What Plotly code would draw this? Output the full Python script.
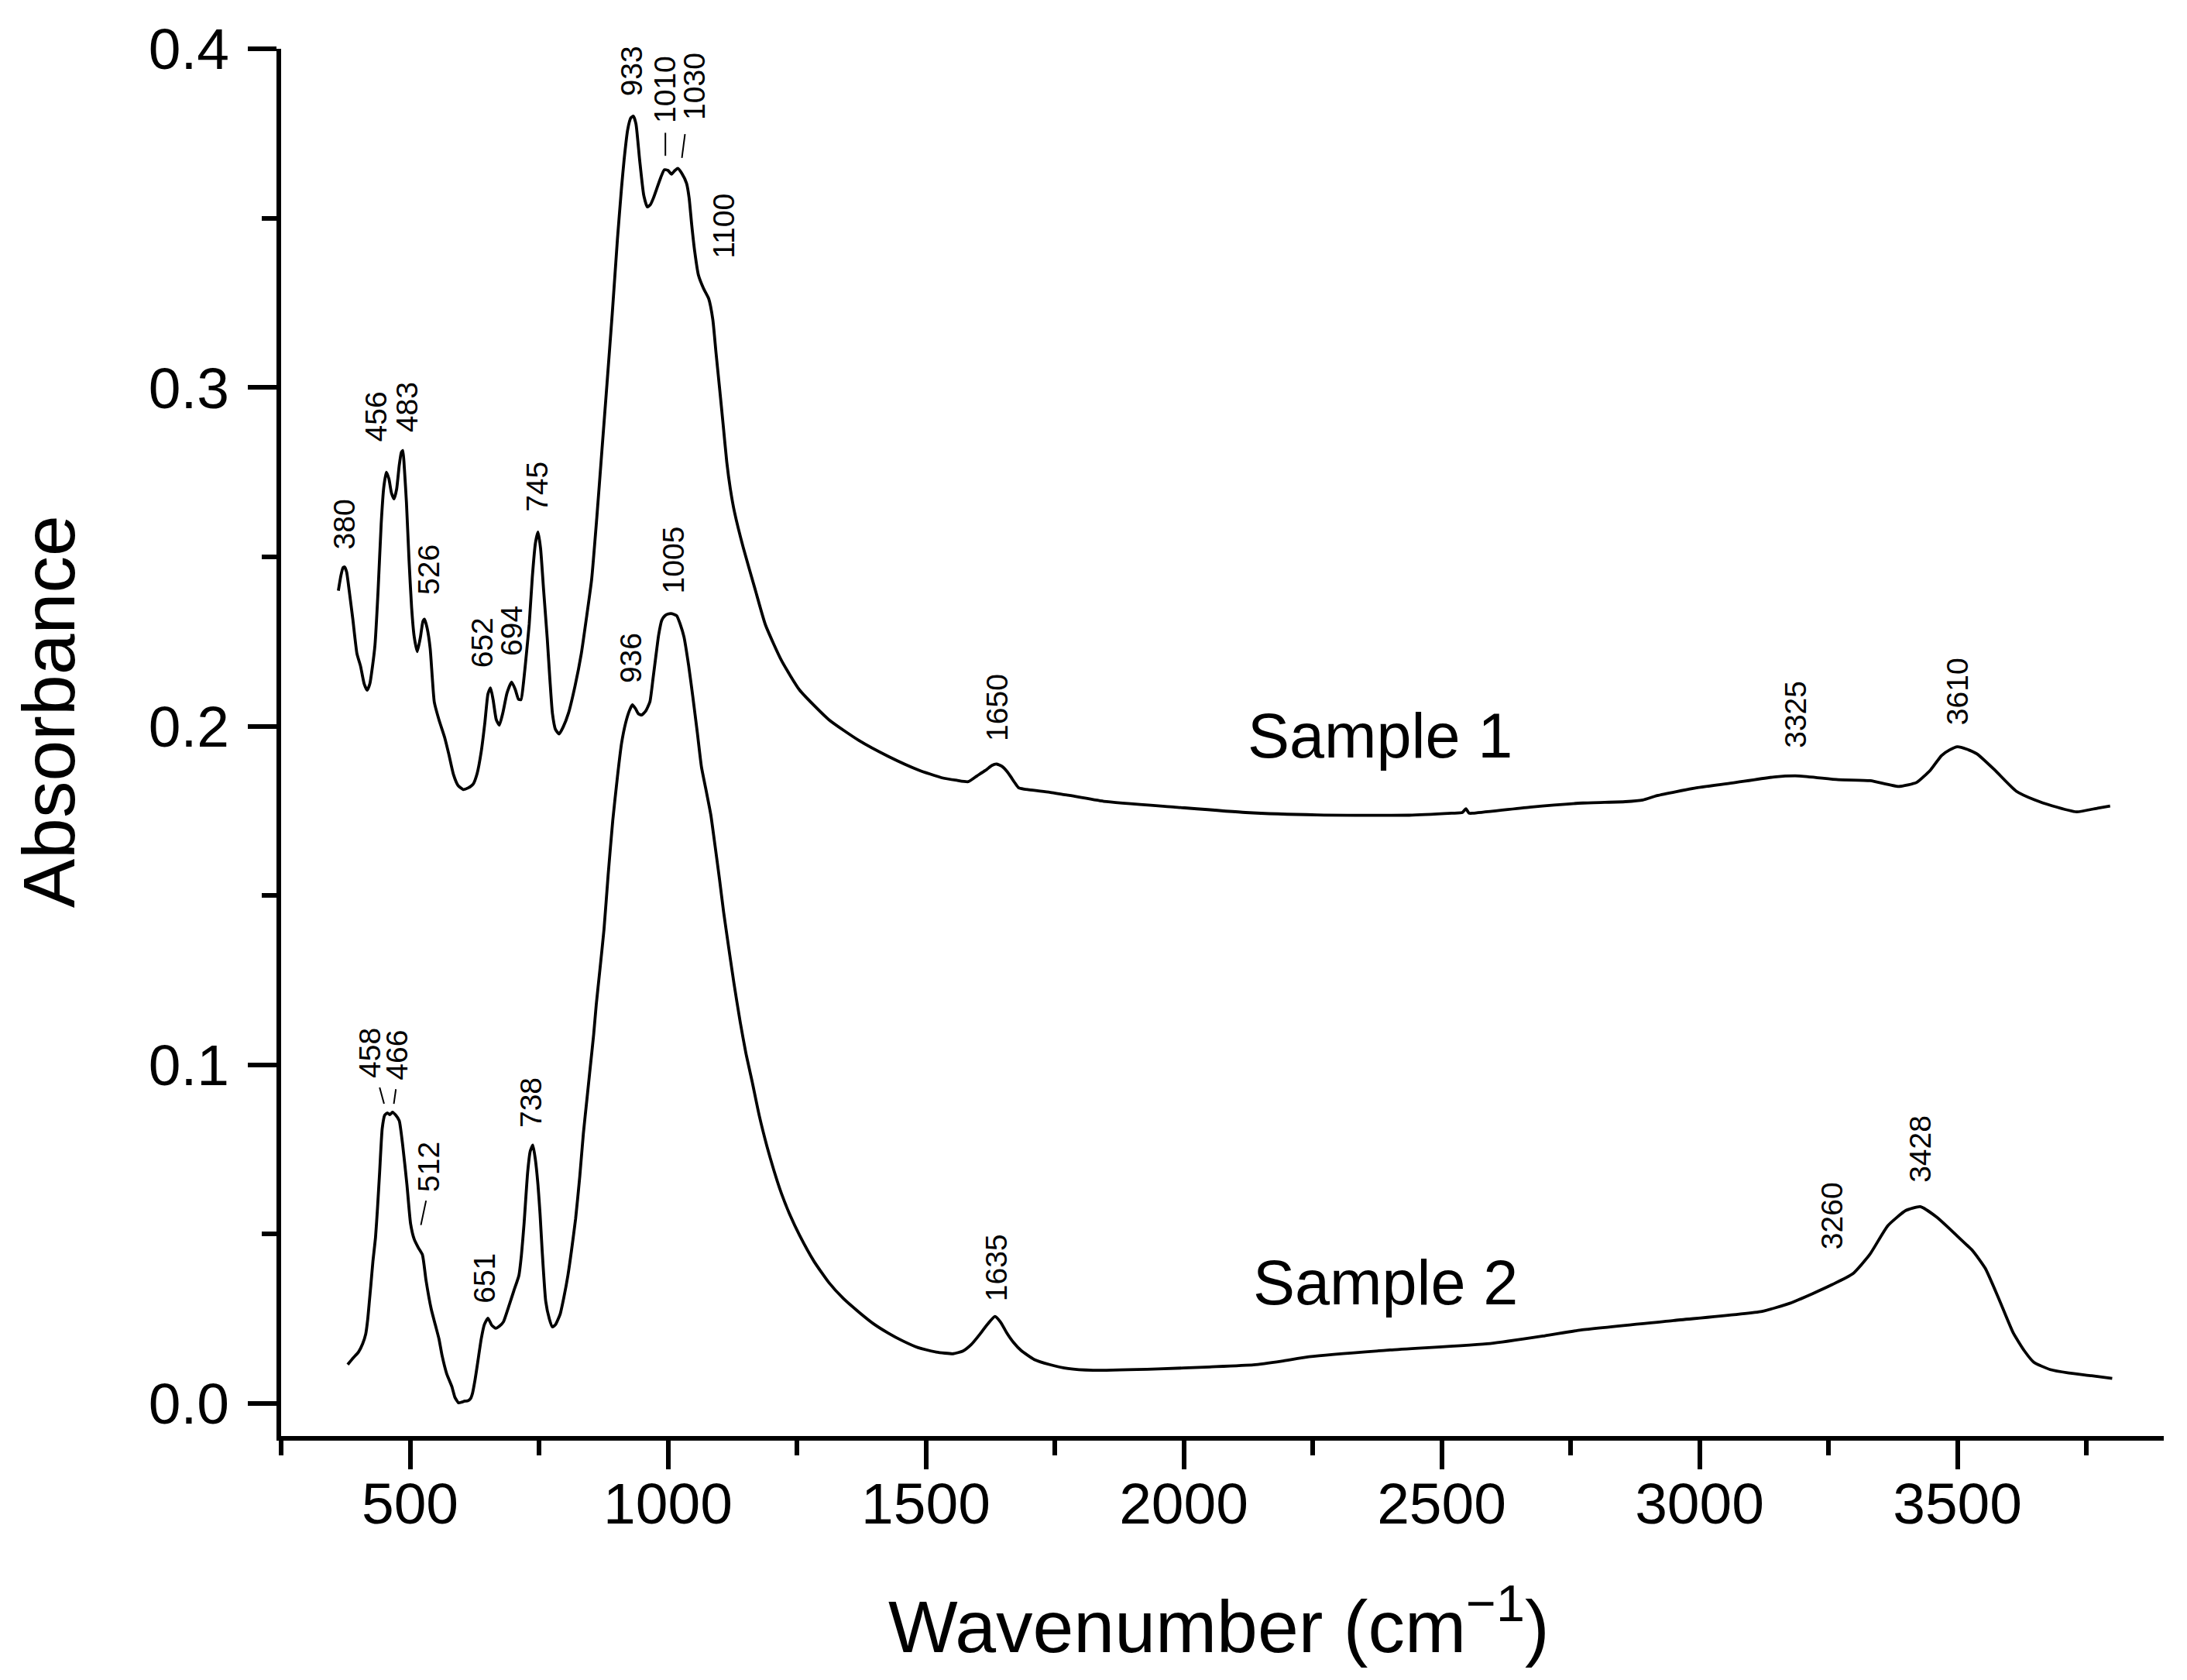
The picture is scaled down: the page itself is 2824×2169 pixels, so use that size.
import plotly.graph_objects as go

# ---------------- data ----------------
s1_wavenumber = [361, 366, 370, 373, 377, 382, 389, 397, 404, 411, 417, 422, 427, 432, 438, 444, 449, 454,
                 459, 464, 469, 474, 479, 483, 486, 489, 493, 498, 503, 508, 514, 520, 525, 528, 533, 539,
                 543, 547, 556, 567, 575, 584, 593, 603, 613, 622, 630, 638, 645, 651, 656, 661, 667, 673,
                 680, 688, 697, 704, 710, 715, 720, 726, 731, 737, 743, 748, 753, 759, 766, 771, 776, 782,
                 789, 797, 807, 820, 832, 842, 852, 862, 872, 882, 892, 902, 910, 915, 922, 928, 933, 938,
                 945, 953, 960, 966, 972, 978, 986, 993, 1000, 1007, 1013, 1019, 1027, 1036, 1041, 1046,
                 1052, 1059, 1069, 1079, 1087, 1093, 1100, 1107, 1114, 1121, 1129, 1146, 1169, 1189, 1220,
                 1255, 1312, 1370, 1427, 1485, 1530, 1560, 1582, 1599, 1617, 1628, 1637, 1647, 1657, 1665,
                 1671, 1680, 1700, 1740, 1776, 1845, 1983, 2120, 2258, 2437, 2520, 2540, 2547, 2553, 2561,
                 2671, 2774, 2856, 2890, 2918, 2994, 3063, 3145, 3193, 3269, 3331, 3386, 3421, 3448, 3469,
                 3485, 3500, 3518, 3538, 3572, 3614, 3650, 3683, 3731, 3772, 3796]
s1_absorbance = [0.2400, 0.2445, 0.2468, 0.2470, 0.2455, 0.2400, 0.2316, 0.2214, 0.2177, 0.2125, 0.2106,
                 0.2125, 0.2175, 0.2240, 0.2400, 0.2597, 0.2705, 0.2750, 0.2730, 0.2688, 0.2671, 0.2700,
                 0.2770, 0.2808, 0.2814, 0.2760, 0.2660, 0.2490, 0.2350, 0.2264, 0.2220, 0.2262, 0.2310,
                 0.2316, 0.2290, 0.2229, 0.2145, 0.2071, 0.2019, 0.1967, 0.1918, 0.1858, 0.1825, 0.1813,
                 0.1818, 0.1828, 0.1860, 0.1925, 0.2010, 0.2095, 0.2113, 0.2078, 0.2020, 0.2003, 0.2040,
                 0.2098, 0.2130, 0.2108, 0.2080, 0.2078, 0.2130, 0.2220, 0.2301, 0.2440, 0.2540, 0.2573,
                 0.2525, 0.2400, 0.2258, 0.2140, 0.2038, 0.1990, 0.1977, 0.1998, 0.2038, 0.2120, 0.2214,
                 0.2320, 0.2433, 0.2615, 0.2815, 0.3015, 0.3218, 0.3437, 0.3590, 0.3673, 0.3762, 0.3796,
                 0.3801, 0.3778, 0.3673, 0.3568, 0.3533, 0.3540, 0.3560, 0.3586, 0.3620, 0.3643, 0.3641,
                 0.3630, 0.3640, 0.3647, 0.3632, 0.3603, 0.3560, 0.3481, 0.3400, 0.3332, 0.3292, 0.3262,
                 0.3200, 0.3105, 0.2999, 0.2890, 0.2780, 0.2700, 0.2632, 0.2527, 0.2404, 0.2299, 0.2194,
                 0.2107, 0.2019, 0.1958, 0.1911, 0.1871, 0.1848, 0.1840, 0.1836, 0.1853, 0.1871, 0.1884,
                 0.1888, 0.1882, 0.1867, 0.1850, 0.1836, 0.1818, 0.1812, 0.1805, 0.1796, 0.1778, 0.1761,
                 0.1745, 0.1738, 0.1737, 0.1743, 0.1745, 0.1756, 0.1743, 0.1743, 0.1761, 0.1773, 0.1777,
                 0.1782, 0.1795, 0.1818, 0.1832, 0.1850, 0.1853, 0.1842, 0.1839, 0.1822, 0.1834, 0.1871,
                 0.1913, 0.1930, 0.1939, 0.1932, 0.1918, 0.1871, 0.1808, 0.1782, 0.1765, 0.1747, 0.1758,
                 0.1764]

s2_wavenumber = [379, 390, 400, 408, 414, 418, 421, 424, 428, 433, 437, 441, 446, 451, 456, 461, 466, 472,
                 479, 486, 494, 501, 508, 516, 524, 531, 541, 549, 556, 562, 571, 581, 587, 594, 600, 606,
                 612, 617, 621, 626, 631, 638, 644, 651, 658, 666, 673, 681, 691, 701, 711, 716, 721, 728,
                 733, 738, 743, 748, 752, 756, 763, 770, 776, 782, 791, 798, 806, 813, 821, 829, 836, 843,
                 849, 856, 861, 868, 876, 884, 893, 902, 910, 918, 925, 931, 937, 943, 949, 957, 965, 971,
                 977, 982, 988, 994, 1000, 1008, 1017, 1024, 1031, 1040, 1048, 1057, 1065, 1074, 1083,
                 1091, 1100, 1108, 1117, 1128, 1140, 1151, 1163, 1177, 1192, 1205, 1220, 1237, 1255, 1283,
                 1312, 1340, 1370, 1398, 1427, 1455, 1485, 1520, 1553, 1572, 1588, 1605, 1620, 1634, 1645,
                 1657, 1670, 1685, 1710, 1740, 1776, 1824, 1950, 2050, 2135, 2190, 2243, 2400, 2594, 2700,
                 2770, 2950, 3121, 3175, 3220, 3257, 3297, 3330, 3365, 3400, 3428, 3460, 3500, 3530, 3554,
                 3580, 3608, 3630, 3648, 3680, 3716, 3760, 3800]
s2_absorbance = [0.0115, 0.0135, 0.0152, 0.0176, 0.0205, 0.0250, 0.0300, 0.0350, 0.0420, 0.0490, 0.0580,
                 0.0683, 0.0812, 0.0852, 0.0858, 0.0853, 0.0860, 0.0852, 0.0835, 0.0759, 0.0645, 0.0531,
                 0.0485, 0.0460, 0.0439, 0.0363, 0.0279, 0.0232, 0.0191, 0.0142, 0.0088, 0.0050, 0.0018,
                 0.0002, 0.0004, 0.0007, 0.0008, 0.0014, 0.0030, 0.0070, 0.0120, 0.0191, 0.0233, 0.0252,
                 0.0232, 0.0222, 0.0228, 0.0241, 0.0285, 0.0332, 0.0378, 0.0440, 0.0531, 0.0683, 0.0745,
                 0.0763, 0.0720, 0.0645, 0.0560, 0.0454, 0.0302, 0.0250, 0.0226, 0.0233, 0.0264, 0.0312,
                 0.0378, 0.0452, 0.0546, 0.0670, 0.0797, 0.0900, 0.0988, 0.1090, 0.1178, 0.1280, 0.1400,
                 0.1560, 0.1722, 0.1850, 0.1949, 0.2010, 0.2045, 0.2063, 0.2052, 0.2036, 0.2033, 0.2045,
                 0.2072, 0.2140, 0.2212, 0.2270, 0.2313, 0.2326, 0.2331, 0.2332, 0.2326, 0.2300, 0.2264,
                 0.2180, 0.2089, 0.1980, 0.1879, 0.1810, 0.1739, 0.1650, 0.1547, 0.1450, 0.1354, 0.1240,
                 0.1127, 0.1035, 0.0952, 0.0850, 0.0759, 0.0690, 0.0620, 0.0555, 0.0497, 0.0420, 0.0357,
                 0.0310, 0.0270, 0.0236, 0.0208, 0.0185, 0.0165, 0.0152, 0.0147, 0.0155, 0.0174, 0.0205,
                 0.0235, 0.0257, 0.0240, 0.0208, 0.0180, 0.0156, 0.0130, 0.0115, 0.0103, 0.0098, 0.0102,
                 0.0108, 0.0114, 0.0125, 0.0138, 0.0158, 0.0177, 0.0200, 0.0217, 0.0245, 0.0272, 0.0296,
                 0.0325, 0.0351, 0.0383, 0.0440, 0.0525, 0.0570, 0.0581, 0.0550, 0.0494, 0.0450, 0.0399,
                 0.0310, 0.0209, 0.0155, 0.0122, 0.0100, 0.0090, 0.0082, 0.0074]

# peak labels (text, wavenumber, absorbance of the label centre)
peak_text = ["380", "456", "483", "526", "652", "694", "745", "933", "1010", "1030", "1100", "1650",
             "3325", "3610",
             "458", "466", "512", "651", "738", "936", "1005", "1635", "3260", "3428"]
peak_x = [373, 434, 493.5, 536, 640, 695.6, 747, 930, 994, 1050, 1108, 1638,
          3187, 3501,
          421, 474, 537, 645, 734.6, 927, 1010, 1636.6, 3256.5, 3428]
peak_y = [0.2597, 0.2914, 0.2941, 0.2462, 0.2247, 0.2282, 0.2706, 0.3935, 0.3880, 0.3890, 0.3478, 0.2055,
          0.2034, 0.2102,
          0.1036, 0.1028, 0.0698, 0.0369, 0.0889, 0.2202, 0.2490, 0.0401, 0.0554, 0.0752]

# leader lines: (x0, y0, x1, y1)
leader_x0 = [995, 1033, 441, 472.5, 531]
leader_y0 = [0.3752, 0.3748, 0.0933, 0.0928, 0.0599]
leader_x1 = [995, 1027, 449.6, 468.5, 521]
leader_y1 = [0.3684, 0.3678, 0.0885, 0.0885, 0.0527]

sample_text = ["Sample 1", "Sample 2"]
sample_x = [2380, 2391]
sample_y = [0.1972, 0.0356]

x_range = [250, 3900]
y_range = [-0.0096, 0.4]
x_ticks = [500, 1000, 1500, 2000, 2500, 3000, 3500]
y_ticks = [0.0, 0.1, 0.2, 0.3, 0.4]

# ---------------- figure ----------------
FONT = "Liberation Sans, Arial, sans-serif"
fig = go.Figure()
for xs, ys in [(s1_wavenumber, s1_absorbance), (s2_wavenumber, s2_absorbance)]:
    fig.add_trace(go.Scatter(x=xs, y=ys, mode="lines",
                             line=dict(color="black", width=3.8, shape="spline", smoothing=0.5),
                             hoverinfo="skip", showlegend=False))

annotations = []
for t, x, y in zip(peak_text, peak_x, peak_y):
    annotations.append(dict(text=t, x=x, y=y, xref="x", yref="y", showarrow=False, textangle=-90,
                            xanchor="center", yanchor="middle",
                            font=dict(family=FONT, size=39, color="black")))
for t, x, y in zip(sample_text, sample_x, sample_y):
    annotations.append(dict(text=t, x=x, y=y, xref="x", yref="y", showarrow=False,
                            xanchor="center", yanchor="middle",
                            font=dict(family=FONT, size=81, color="black")))
annotations.append(dict(text="Absorbance", x=-0.1236, y=0.5222, xref="paper", yref="paper",
                        showarrow=False, textangle=-90, xanchor="center", yanchor="middle",
                        font=dict(family=FONT, size=95, color="black")))
annotations.append(dict(text="Wavenumber (cm<sup>\u22121</sup>)", x=0.4982, y=-0.1334,
                        xref="paper", yref="paper", showarrow=False, xanchor="center",
                        yanchor="middle", font=dict(family=FONT, size=95, color="black")))

shapes = []
for a, b, c, d in zip(leader_x0, leader_y0, leader_x1, leader_y1):
    shapes.append(dict(type="line", x0=a, y0=b, x1=c, y1=d, xref="x", yref="y",
                       line=dict(color="black", width=2)))

# page body keeps an 8 px margin, so the figure is 16 px smaller than the window
fig.update_layout(
    width=2808, height=2153,
    margin=dict(l=355, r=22, t=55, b=307),
    paper_bgcolor="white", plot_bgcolor="white",
    showlegend=False,
    annotations=annotations, shapes=shapes,
    xaxis=dict(range=x_range, tickvals=x_ticks, ticktext=[str(v) for v in x_ticks],
               showline=True, linewidth=6, linecolor="black", mirror=False,
               ticks="outside", ticklen=37, tickwidth=6, tickcolor="black",
               showgrid=False, zeroline=False, ticklabelstandoff=-20,
               tickfont=dict(family=FONT, size=75, color="black"),
               minor=dict(ticks="outside", ticklen=19, tickwidth=6, tickcolor="black",
                          tick0=250, dtick=250, showgrid=False)),
    yaxis=dict(range=y_range, tickvals=y_ticks, ticktext=["%.1f" % v for v in y_ticks],
               showline=True, linewidth=6, linecolor="black", mirror=False,
               ticks="outside", ticklen=37, tickwidth=6, tickcolor="black",
               showgrid=False, zeroline=False, ticklabelstandoff=9,
               tickfont=dict(family=FONT, size=75, color="black"),
               minor=dict(ticks="outside", ticklen=19, tickwidth=6, tickcolor="black",
                          tick0=0, dtick=0.05, showgrid=False)),
)

fig.write_html("out.html")
